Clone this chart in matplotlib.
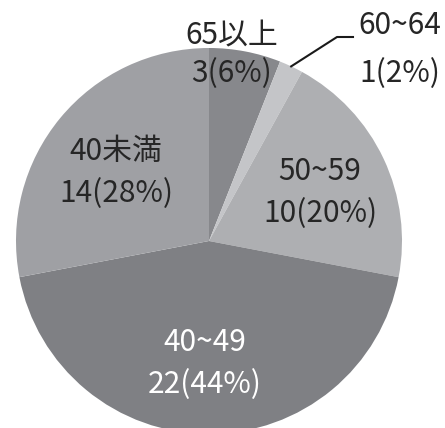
import numpy as np
import matplotlib
matplotlib.use("Agg")
import matplotlib.pyplot as plt

plt.rcParams['font.family'] = ['Noto Sans CJK JP', 'DejaVu Sans']

# age groups, clockwise from 12 o'clock
groups = ["65以上", "60~64", "50~59", "40~49", "40未満"]
counts = [3, 1, 10, 22, 14]
colors = ["#87888c", "#c4c5c8", "#aeafb2", "#7f8084", "#9fa0a4"]
text_colors = ["#262626", "#262626", "#262626", "#ffffff", "#262626"]

# label anchor points (pixel coords of the two text lines' centres)
label_px = [(232, 36, 74), (400, 26, 74), (320, 172, 214), (205, 343, 385), (116, 152, 194)]

W, H = 445, 428
cx, cy, r = 209, 241, 193

fig = plt.figure(figsize=(W / 100, H / 100), dpi=100)
ax = fig.add_axes([(cx - r) / W, 1 - (cy + r) / H, 2 * r / W, 2 * r / H])

wedges, _ = ax.pie(counts, colors=colors, startangle=90, counterclock=False,
                   radius=1, wedgeprops=dict(linewidth=0, edgecolor='none'))
ax.set_xlim(-1, 1)
ax.set_ylim(-1, 1)
ax.axis('off')

total = sum(counts)


def to_data(px, py):
    return (px - cx) / r, (cy - py) / r


for i, g in enumerate(groups):
    pct = round(counts[i] / total * 100)
    px, py1, py2 = label_px[i]
    x1, y1 = to_data(px, py1)
    x2, y2 = to_data(px, py2)
    ax.text(x1, y1, g, ha='center', va='center', fontsize=21.5,
            color=text_colors[i], clip_on=False)
    ax.text(x2, y2, f"{counts[i]}({pct}%)", ha='center', va='center', fontsize=21.5,
            color=text_colors[i], clip_on=False)

# leader line for the thin 60~64 slice
w = wedges[1]
mid = np.deg2rad((w.theta1 + w.theta2) / 2)
ex, ey = np.cos(mid), np.sin(mid)
kx, ky = to_data(337, 37)
hx, hy = to_data(353, 37)
ax.plot([ex, kx, hx], [ey, ky, hy], color='#1a1a1a', lw=1.5, clip_on=False)

fig.savefig("out.png", dpi=100)
